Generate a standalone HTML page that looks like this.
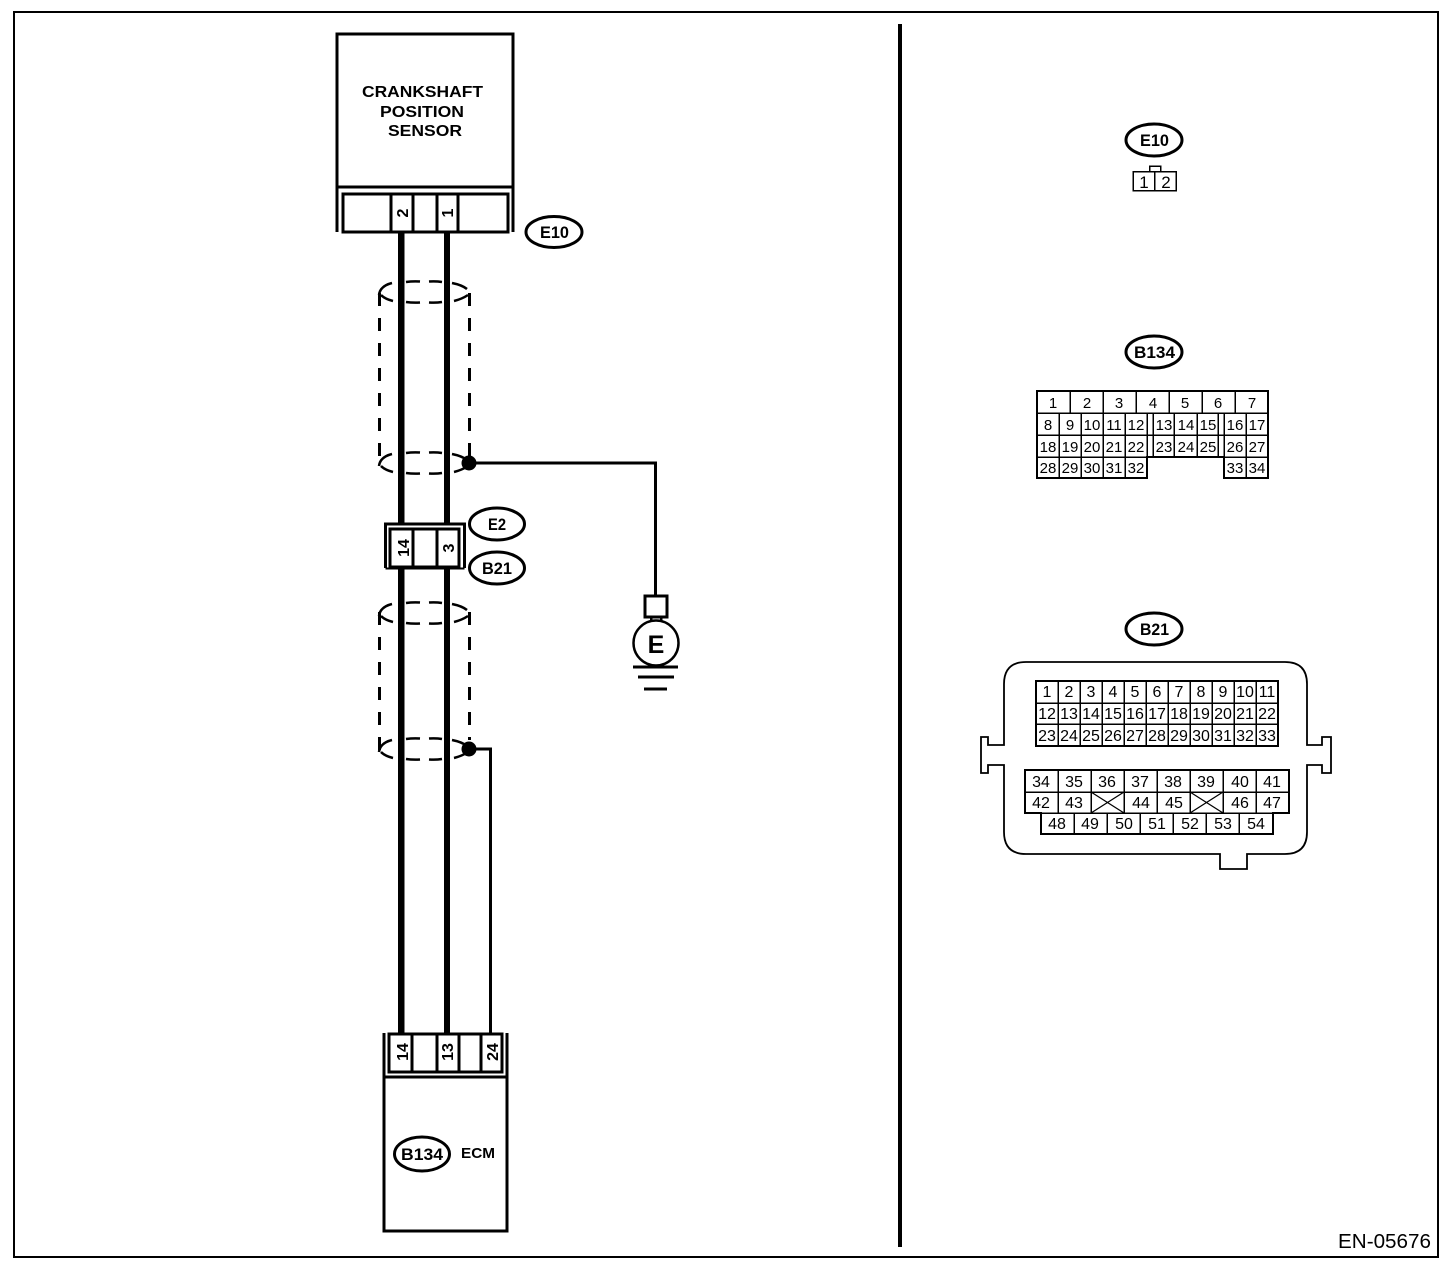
<!DOCTYPE html>
<html><head><meta charset="utf-8"><style>
html,body{margin:0;padding:0;background:#fff}
svg{display:block}
text{font-family:"Liberation Sans",sans-serif;fill:#000}
.l{stroke:#000;fill:none;shape-rendering:crispEdges}
.w{fill:#fff}
</style></head><body>
<svg width="1456" height="1276" viewBox="0 0 1456 1276" xmlns="http://www.w3.org/2000/svg">
<defs>
<g id="ell" fill="none" stroke="#000" stroke-width="2.5">
<path d="M379 3Q380 -6 392 -9M406 -10Q413 -11 420 -10.5M429 -10.5Q436 -11 442 -10M452 -9Q462 -7 467 -3"/>
<path d="M381 3Q385 7 393 9M406 10Q413 11 420 10.5M429 10.5Q436 11 442 10M454 9Q462 7 468 3"/>
</g>
</defs>
<rect x="14" y="12" width="1424" height="1245" fill="#fff" stroke="#000" stroke-width="2" shape-rendering="crispEdges"/>
<rect x="898" y="24" width="4" height="1223" fill="#000"/>

<!-- wires -->
<rect x="398" y="232" width="6.500" height="801" fill="#000"/>
<rect x="444" y="232" width="6" height="801" fill="#000"/>

<!-- shields -->
<use href="#ell" x="0" y="292"/>
<use href="#ell" x="0" y="463"/>
<use href="#ell" x="0" y="613"/>
<use href="#ell" x="0" y="749"/>
<path class="l" stroke-width="3" stroke-dasharray="13 12" d="M379.500 293V456M469.500 293V456M379.500 612V750M469.500 612V740"/>
<circle cx="469" cy="463" r="7.500"/>
<circle cx="469" cy="749" r="7.500"/>
<path class="l" stroke-width="3" d="M469 463H655.500V595M469 749H490.500V1033"/>

<!-- sensor -->
<rect class="l" x="337" y="34" width="176" height="153" stroke-width="3"/>
<path class="l" stroke-width="3" d="M337 187V232M513 187V232"/>
<rect class="l w" x="343" y="194" width="165" height="38" stroke-width="3"/>
<path class="l" stroke-width="3" d="M391 194V232M413 194V232M437 194V232M458 194V232"/>
<g font-size="16" font-weight="bold">
<text x="362" y="97" textLength="121" lengthAdjust="spacingAndGlyphs">CRANKSHAFT</text>
<text x="380" y="117" textLength="84" lengthAdjust="spacingAndGlyphs">POSITION</text>
<text x="388" y="136" textLength="74" lengthAdjust="spacingAndGlyphs">SENSOR</text>
</g>
<g font-size="16" font-weight="bold" text-anchor="middle">
<text transform="translate(408,213) rotate(-90)">2</text>
<text transform="translate(453,213) rotate(-90)">1</text>
</g>

<!-- mid connector -->
<path class="l w" stroke-width="3" d="M385.500 568V524H464.500V568"/>
<rect class="l w" x="390" y="529" width="69" height="38" stroke-width="3"/>
<path class="l" stroke-width="3" d="M413 529V567M437 529V567"/>
<path stroke="#fff" stroke-width="2" d="M385.500 568.500H464.500" class="l"/>
<g font-size="16" font-weight="bold" text-anchor="middle">
<text transform="translate(409,548) rotate(-90)">14</text>
<text transform="translate(454,548) rotate(-90)">3</text>
</g>

<!-- ground -->
<rect class="l w" x="645" y="596" width="22" height="21" stroke-width="3"/>
<path class="l" stroke-width="2.500" d="M651 617V622M661 617V622"/>
<circle cx="656" cy="643" r="22.500" fill="#fff" stroke="#000" stroke-width="2.500"/>
<path class="l" stroke-width="3" d="M633 667H678M638 677H674M644 689H667"/>
<text x="656" y="653" font-size="25" font-weight="bold" text-anchor="middle">E</text>

<!-- ECM -->
<path class="l" stroke-width="3" d="M384 1033V1077M507 1033V1077"/>
<rect class="l w" x="389" y="1034" width="113" height="38" stroke-width="3"/>
<path class="l" stroke-width="3" d="M412 1034V1072M437 1034V1072M459 1034V1072M481 1034V1072"/>
<rect class="l w" x="384" y="1077" width="123" height="154" stroke-width="3"/>
<g font-size="16" font-weight="bold" text-anchor="middle">
<text transform="translate(408,1052) rotate(-90)">14</text>
<text transform="translate(453,1052) rotate(-90)">13</text>
<text transform="translate(498,1052) rotate(-90)">24</text>
</g>
<text x="461" y="1158" font-size="15" font-weight="bold" textLength="34" lengthAdjust="spacingAndGlyphs">ECM</text>

<!-- ovals -->
<g fill="#fff" stroke="#000" stroke-width="3">
<ellipse cx="554" cy="232" rx="28" ry="15.500"/>
<ellipse cx="497" cy="524" rx="27.500" ry="16"/>
<ellipse cx="497" cy="568" rx="27.500" ry="16"/>
<ellipse cx="422" cy="1154" rx="27.500" ry="17"/>
<ellipse cx="1154" cy="140" rx="28" ry="16"/>
<ellipse cx="1154" cy="352" rx="28" ry="16"/>
<ellipse cx="1154" cy="629" rx="28" ry="16"/>
</g>
<g font-size="17" font-weight="bold">
<text x="540" y="238" textLength="29" lengthAdjust="spacingAndGlyphs">E10</text>
<text x="488" y="530" textLength="18" lengthAdjust="spacingAndGlyphs">E2</text>
<text x="482" y="574" textLength="30" lengthAdjust="spacingAndGlyphs">B21</text>
<text x="401" y="1160" textLength="42" lengthAdjust="spacingAndGlyphs">B134</text>
<text x="1140" y="146" textLength="29" lengthAdjust="spacingAndGlyphs">E10</text>
<text x="1134" y="358" textLength="41" lengthAdjust="spacingAndGlyphs">B134</text>
<text x="1140" y="635" textLength="29" lengthAdjust="spacingAndGlyphs">B21</text>
</g>

<!-- right E10 connector -->
<path class="l" stroke-width="1.500" d="M1149.500 171V166H1160.500V171"/>
<rect class="l" x="1133" y="171.500" width="43" height="19" stroke-width="1.500"/>
<path class="l" stroke-width="1.500" d="M1154.500 171V190"/>
<g font-size="17" text-anchor="middle">
<text x="1144" y="188">1</text>
<text x="1166" y="188">2</text>
</g>

<!-- B134 grid -->
<path class="l" stroke-width="2" d="M1037 391H1268V478H1224V457H1147V478H1037Z"/>
<path class="l" stroke-width="1.500" d="M1037 413H1268M1037 435H1268M1037 457H1147M1224 457H1268"/>
<path class="l" stroke-width="1.500" d="M1070 391V413M1103 391V413M1136 391V413M1169 391V413M1202 391V413M1235 391V413"/>
<path class="l" stroke-width="1.500" d="M1059 413V478M1081 413V478M1103 413V478M1125 413V478M1147 413V478M1153 413V457M1174 413V457M1197 413V457M1218 413V457M1224 413V478M1246 413V478"/>
<g font-size="15" text-anchor="middle">
<text x="1053" y="408">1</text><text x="1087" y="408">2</text><text x="1119" y="408">3</text><text x="1153" y="408">4</text><text x="1185" y="408">5</text><text x="1218" y="408">6</text><text x="1252" y="408">7</text>
<text x="1048" y="430">8</text><text x="1070" y="430">9</text><text x="1092" y="430">10</text><text x="1114" y="430">11</text><text x="1136" y="430">12</text><text x="1164" y="430">13</text><text x="1186" y="430">14</text><text x="1208" y="430">15</text><text x="1235" y="430">16</text><text x="1257" y="430">17</text>
<text x="1048" y="452">18</text><text x="1070" y="452">19</text><text x="1092" y="452">20</text><text x="1114" y="452">21</text><text x="1136" y="452">22</text><text x="1164" y="452">23</text><text x="1186" y="452">24</text><text x="1208" y="452">25</text><text x="1235" y="452">26</text><text x="1257" y="452">27</text>
<text x="1048" y="473">28</text><text x="1070" y="473">29</text><text x="1092" y="473">30</text><text x="1114" y="473">31</text><text x="1136" y="473">32</text><text x="1235" y="473">33</text><text x="1257" y="473">34</text>
</g>

<!-- B21 housing -->
<path fill="#fff" stroke="#000" stroke-width="1.800" d="M1026 662H1285Q1307 662 1307 684V745H1322V737H1331V773H1322V765H1307V832Q1307 854 1285 854H1247V869H1220V854H1026Q1004 854 1004 832V765H988V773H981V737H988V745H1004V684Q1004 662 1026 662Z"/>
<!-- upper -->
<rect class="l" x="1036" y="681" width="242" height="65" stroke-width="2"/>
<path class="l" stroke-width="1.500" d="M1036 703H1278M1036 724H1278M1058 681V746M1080 681V746M1102 681V746M1124 681V746M1146 681V746M1168 681V746M1190 681V746M1212 681V746M1234 681V746M1256 681V746"/>
<g font-size="16" text-anchor="middle">
<text x="1047" y="697">1</text><text x="1069" y="697">2</text><text x="1091" y="697">3</text><text x="1113" y="697">4</text><text x="1135" y="697">5</text><text x="1157" y="697">6</text><text x="1179" y="697">7</text><text x="1201" y="697">8</text><text x="1223" y="697">9</text><text x="1245" y="697">10</text><text x="1267" y="697">11</text>
<text x="1047" y="719">12</text><text x="1069" y="719">13</text><text x="1091" y="719">14</text><text x="1113" y="719">15</text><text x="1135" y="719">16</text><text x="1157" y="719">17</text><text x="1179" y="719">18</text><text x="1201" y="719">19</text><text x="1223" y="719">20</text><text x="1245" y="719">21</text><text x="1267" y="719">22</text>
<text x="1047" y="741">23</text><text x="1069" y="741">24</text><text x="1091" y="741">25</text><text x="1113" y="741">26</text><text x="1135" y="741">27</text><text x="1157" y="741">28</text><text x="1179" y="741">29</text><text x="1201" y="741">30</text><text x="1223" y="741">31</text><text x="1245" y="741">32</text><text x="1267" y="741">33</text>
</g>
<!-- lower -->
<path class="l" stroke-width="2" d="M1025 770H1289V813H1273V834H1041V813H1025Z"/>
<path class="l" stroke-width="1.500" d="M1025 792H1289M1041 813H1273M1058 770V813M1091 770V813M1124 770V813M1157 770V813M1190 770V813M1223 770V813M1256 770V813M1074 813V834M1107 813V834M1140 813V834M1173 813V834M1206 813V834M1239 813V834"/>
<path fill="none" stroke="#000" stroke-width="1.300" d="M1091 792L1124 813M1124 792L1091 813M1190 792L1223 813M1223 792L1190 813"/>
<g font-size="16" text-anchor="middle">
<text x="1041" y="787">34</text><text x="1074" y="787">35</text><text x="1107" y="787">36</text><text x="1140" y="787">37</text><text x="1173" y="787">38</text><text x="1206" y="787">39</text><text x="1240" y="787">40</text><text x="1272" y="787">41</text>
<text x="1041" y="808">42</text><text x="1074" y="808">43</text><text x="1141" y="808">44</text><text x="1174" y="808">45</text><text x="1240" y="808">46</text><text x="1272" y="808">47</text>
<text x="1057" y="829">48</text><text x="1090" y="829">49</text><text x="1124" y="829">50</text><text x="1157" y="829">51</text><text x="1190" y="829">52</text><text x="1223" y="829">53</text><text x="1256" y="829">54</text>
</g>

<text x="1338" y="1248" font-size="20" textLength="93" lengthAdjust="spacingAndGlyphs">EN-05676</text>
</svg>
</body></html>
